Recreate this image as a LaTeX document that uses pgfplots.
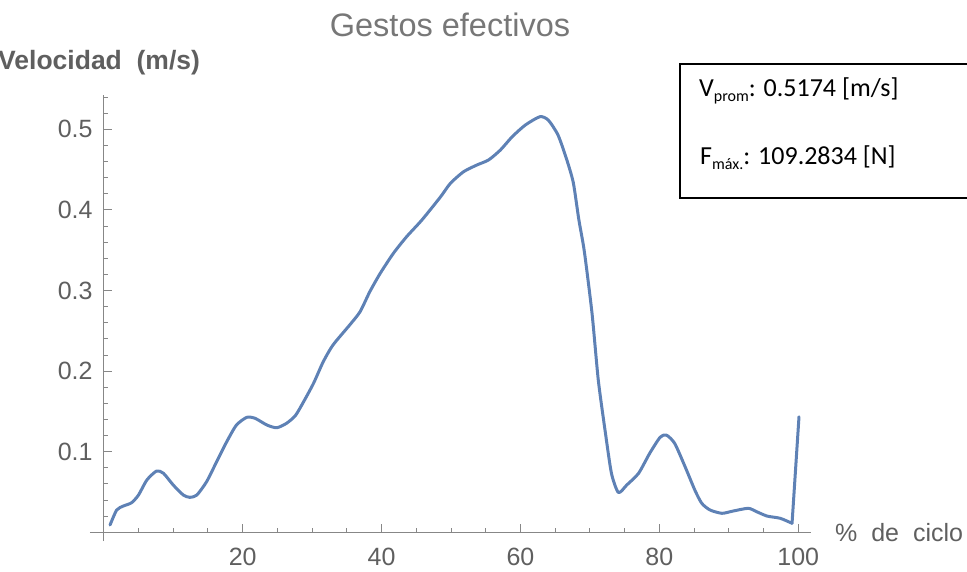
\documentclass[border=0pt]{standalone}
\usepackage{pgfplots}
\pgfplotsset{compat=1.18}
\usepackage{fontspec}
\setmainfont{Liberation Sans}
\newfontfamily\calibri{Carlito}
\definecolor{mblue}{rgb}{0.368417,0.506779,0.709798}
\definecolor{axgray}{RGB}{135,135,135}
\definecolor{txtgray}{RGB}{95,95,95}
\begin{document}
\begin{tikzpicture}[x=1pt,y=1pt]
\path[use as bounding box] (0,0) rectangle (967,571);
\begin{axis}[
  at={(89.9pt,29.8pt)}, anchor=south west,
  scale only axis, width=720.9pt, height=446.1pt,
  xmin=-2, xmax=101.8, ymin=-0.011, ymax=0.5425,
  axis lines=middle,
  axis line style={-, draw=axgray, line width=1.3pt},
  xtick={20,40,60,80,100},
  minor xtick={5,10,15,25,30,35,45,50,55,65,70,75,85,90,95},
  ytick={0.1,0.2,0.3,0.4,0.5},
  minor ytick={0.02,0.04,0.06,0.08,0.12,0.14,0.16,0.18,0.22,0.24,0.26,0.28,0.32,0.34,0.36,0.38,0.42,0.44,0.46,0.48,0.52,0.54},
  tick align=inside,
  major tick length=8pt, minor tick length=4pt,
  every tick/.style={draw=axgray, line width=1pt},
  ticklabel style={font=\fontsize{25}{25}\selectfont, text=txtgray},
  /pgf/number format/assume math mode=true,
  xticklabel style={anchor=north, inner sep=0pt, yshift=-16pt},
  yticklabel style={anchor=east, inner sep=0pt, xshift=-11pt},
  clip=false,
]
\addplot[mblue, line width=3pt, line join=round, line cap=round, smooth, tension=0.4] coordinates {
(0.9,0.0091) (1.85,0.0276) (2.8,0.0326) (4.0,0.0367) (5.0,0.0463)
(6.2,0.0649) (7.6,0.0761) (8.6,0.0732) (10.0,0.0587) (11.45,0.0463)
(12.4,0.0434) (13.4,0.0463) (14.8,0.0628) (16.25,0.0876) (17.7,0.1124)
(19.1,0.1331) (20.6,0.1427) (21.8,0.1414) (23.5,0.1331) (24.9,0.1298)
(26.3,0.1352) (27.6,0.1450) (28.8,0.1625) (30.2,0.1849) (31.6,0.2117)
(33.0,0.2324) (35.4,0.2572) (36.9,0.2737) (38.3,0.2985) (39.8,0.3213)
(41.7,0.3462) (43.6,0.3668) (45.8,0.3875) (48.5,0.4164) (49.9,0.4330)
(51.8,0.4474) (53.7,0.4557) (55.4,0.4620) (57.1,0.4743) (58.8,0.4908)
(60.7,0.5054) (62.8,0.5157) (64.0,0.5115) (65.4,0.4930) (66.6,0.4640)
(67.6,0.4340) (68.4,0.3880) (69.2,0.3480) (70.3,0.2717) (71.2,0.1890)
(72.2,0.1250) (73.1,0.0731) (74.1,0.0494) (75.3,0.0587) (77.0,0.0732)
(78.6,0.0980) (80.1,0.1179) (81.0,0.1207) (82.2,0.1104) (83.7,0.0814)
(85.1,0.0525) (86.1,0.0360) (87.3,0.0277) (89.0,0.0236) (90.6,0.0264)
(92.8,0.0298) (94.0,0.0256) (95.5,0.0202) (97.4,0.0174) (99.1,0.0112)
};
\addplot[mblue, line width=3pt, line join=round, line cap=round] coordinates {
(99.1,0.0112) (100.1,0.1434)
};
\end{axis}
\node[anchor=base, text=txtgray!85, font=\fontsize{32.5}{32.5}\selectfont] at (450,534) {Gestos efectivos};
\node[anchor=base west, inner sep=0pt, text=txtgray, font=\bfseries\fontsize{26.5}{26.5}\selectfont] at (-2,501) {Velocidad\ \ (m/s)};
\node[anchor=base west, inner sep=0pt, text=txtgray, font=\fontsize{25}{25}\selectfont] at (835,29.5) {\%\ \ de\ \ ciclo};
\draw[line width=1.5pt] (680,507) rectangle (990,373);
\node[anchor=base west, inner sep=0pt, font=\calibri\fontsize{26}{26}\selectfont] at (699,474) {V\raisebox{-4.5pt}{\fontsize{16}{16}\selectfont prom}: 0.5174 [m/s]};
\node[anchor=base west, inner sep=0pt, font=\calibri\fontsize{26}{26}\selectfont] at (700,406) {F\raisebox{-4.5pt}{\fontsize{16}{16}\selectfont máx.}: 109.2834 [N]};
\end{tikzpicture}
\end{document}
